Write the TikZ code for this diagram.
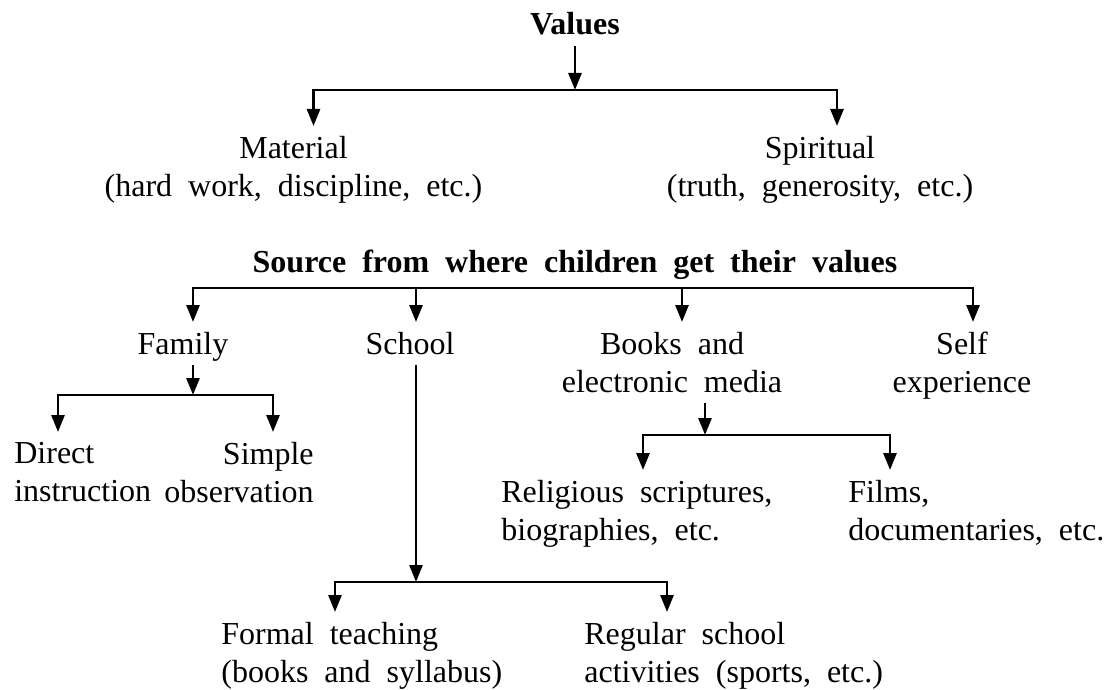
\documentclass[tikz,border=0pt]{standalone}
\usepackage{fontspec}
\setmainfont{Liberation Serif}
\usetikzlibrary{arrows.meta,calc}
\newcommand{\txtfont}{\fontsize{32}{38}\selectfont\spaceskip=0.5em plus 0.1em\relax}

\begin{document}
\begin{tikzpicture}[x=1pt, y=-1pt, >={Triangle[length=17pt,width=13pt]},
    line width=2.7pt,
    txt/.style={font=\txtfont, inner xsep=0pt, inner ysep=9pt},
    head/.style={txt, font=\txtfont\bfseries}]
  \useasboundingbox (0,0) rectangle (1105,690);

  %% Kinds of values
  \node[head, anchor=base] (values) at (575,35) {Values};
  \coordinate (jv) at (575,90);
  \node[txt, align=center, anchor=north] (material) at (293.5,126)
    {Material\\(hard work, discipline, etc.)};
  \node[txt, align=center, anchor=north] (spiritual) at (820,126)
    {Spiritual\\(truth, generosity, etc.)};
  \draw[->] (values.south) -- (jv);
  \draw[->] (jv) -| ([xshift=20pt]material.north);
  \draw[->] (jv) -| ([xshift=17pt]spiritual.north);

  %% Sources
  \node[head, anchor=base] (source) at (575,272)
    {Source from where children get their values};
  \coordinate (sbar) at ([yshift=-16pt]source.base);
  \node[txt, anchor=north, text depth=0pt] (family) at (183,322) {Family};
  \node[txt, anchor=north] (school) at (410,322) {School};
  \node[txt, align=center, anchor=north] (books) at (672,322)
    {Books and\\electronic media};
  \node[txt, align=center, anchor=north] (self) at (962,322)
    {Self\\experience};
  \draw[->] (sbar) -| ([xshift=10pt]family.north);
  \draw[->] (sbar) -| ([xshift=6pt]school.north);
  \draw[->] (sbar) -| ([xshift=10pt]books.north);
  \draw[->] (sbar) -| ([xshift=11pt]self.north);

  %% Family
  \coordinate (jfam) at (193,395);
  \node[txt, align=left, anchor=north west] (direct) at (13,432)
    {Direct\\instruction};
  \node[txt, align=right, anchor=north east] (simple) at (315,432)
    {Simple\\observation};
  \draw[->] (family.south -| jfam) -- (jfam);
  \draw[->] (jfam) -| ([xshift=45pt]direct.north west);
  \draw[->] (jfam) -| ([xshift=-42pt]simple.north east);

  %% Books and media
  \coordinate (jbook) at (705,435);
  \node[txt, align=left, anchor=north west] (religious) at (500,470)
    {Religious scriptures,\\biographies, etc.};
  \node[txt, align=left, anchor=north west] (films) at (847,470)
    {Films,\\documentaries, etc.};
  \draw[->] (books.south -| jbook) -- (jbook);
  \draw[->] (jbook) -| ([xshift=143pt]religious.north west);
  \draw[->] (jbook) -| ([xshift=43pt]films.north west);

  %% School
  \coordinate (jsch) at (416,582);
  \node[txt, align=left, anchor=north west] (formal) at (220,612)
    {Formal teaching\\(books and syllabus)};
  \node[txt, align=left, anchor=north west] (regular) at (583,612)
    {Regular school\\activities (sports, etc.)};
  \draw[->] (school.south -| jsch) -- (jsch);
  \draw[->] (jsch) -| ([xshift=115pt]formal.north west);
  \draw[->] (jsch) -| ([xshift=84pt]regular.north west);
\end{tikzpicture}
\end{document}
